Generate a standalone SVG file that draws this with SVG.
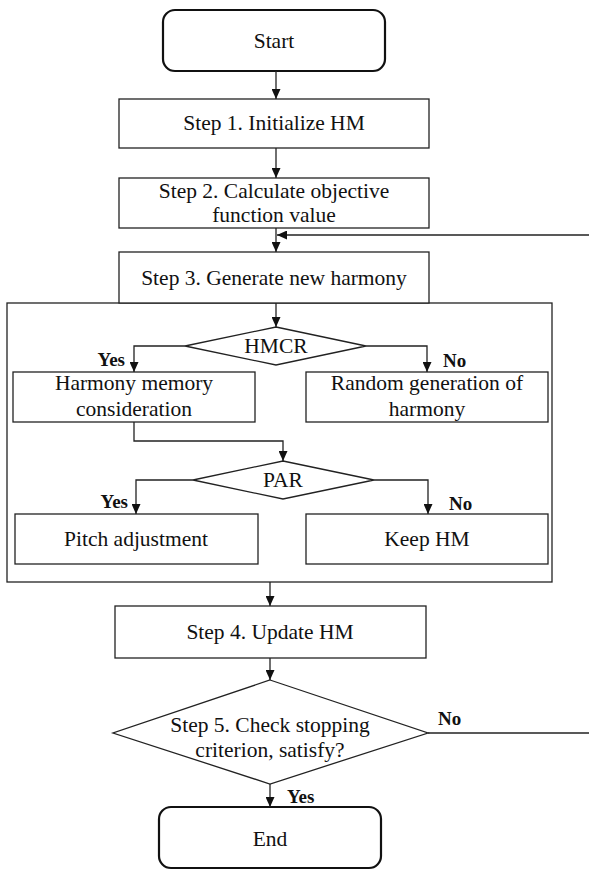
<svg xmlns="http://www.w3.org/2000/svg" width="589" height="870" viewBox="0 0 589 870">
<style>
.box{fill:#fff;stroke:#222;stroke-width:1.3}
.term{fill:#fff;stroke:#111;stroke-width:2.2}
.t{font-family:"Liberation Serif","Times New Roman",serif;font-size:21.5px;fill:#111;text-anchor:middle}
.lbl{font-family:"Liberation Serif","Times New Roman",serif;font-size:19px;font-weight:bold;fill:#111}
.c{fill:none;stroke:#222;stroke-width:1.3}
</style>
<defs>
<marker id="ah" markerUnits="userSpaceOnUse" markerWidth="10" markerHeight="9" refX="10" refY="4.5" orient="auto">
<path d="M0,0 L10,4.5 L0,9 z" fill="#111"/>
</marker>
</defs>
<rect width="589" height="870" fill="#fff"/>
<g id="container"><rect class="box" x="7" y="303" width="545" height="279"/></g>
<g id="start"><rect class="term" x="163" y="10" width="222" height="61" rx="12"/><text class="t" x="274" y="48">Start</text></g>
<g id="step1"><rect class="box" x="119" y="99" width="310" height="49"/><text class="t" x="274" y="130">Step 1. Initialize HM</text></g>
<g id="step2"><rect class="box" x="119" y="178" width="310" height="50"/><text class="t" x="274" y="198">Step 2. Calculate objective</text><text class="t" x="274" y="222">function value</text></g>
<g id="step3"><rect class="box" x="119" y="252" width="310" height="51"/><text class="t" x="274" y="285">Step 3. Generate new harmony</text></g>
<g id="hmcr"><polygon class="box" points="276,327 366,346 276,365 185,346"/><text class="t" x="276" y="353">HMCR</text></g>
<g id="hmc"><rect class="box" x="13" y="372" width="242" height="50"/><text class="t" x="134" y="390">Harmony memory</text><text class="t" x="134" y="416">consideration</text></g>
<g id="random"><rect class="box" x="306" y="372" width="242" height="50"/><text class="t" x="427" y="390">Random generation of</text><text class="t" x="427" y="416">harmony</text></g>
<g id="par"><polygon class="box" points="283,461 374,480 283,499 193,480"/><text class="t" x="283" y="487">PAR</text></g>
<g id="pitch"><rect class="box" x="15" y="514" width="243" height="50"/><text class="t" x="136" y="546">Pitch adjustment</text></g>
<g id="keep"><rect class="box" x="306" y="514" width="242" height="50"/><text class="t" x="427" y="546">Keep HM</text></g>
<g id="step4"><rect class="box" x="115" y="606" width="311" height="52"/><text class="t" x="270" y="639">Step 4. Update HM</text></g>
<g id="step5"><polygon class="box" points="270,680 428,733 270,784 113,733"/><text class="t" x="270" y="732">Step 5. Check stopping</text><text class="t" x="270" y="757">criterion, satisfy?</text></g>
<g id="end"><rect class="term" x="159" y="807" width="222" height="61" rx="12"/><text class="t" x="270" y="846">End</text></g>
<g id="connectors">
<path class="c" d="M276,71 V99" marker-end="url(#ah)"/>
<path class="c" d="M276,148 V178" marker-end="url(#ah)"/>
<path class="c" d="M276,228 V252" marker-end="url(#ah)"/>
<path class="c" d="M589,235 H277" marker-end="url(#ah)"/>
<path class="c" d="M276,303 V327" marker-end="url(#ah)"/>
<path class="c" d="M185,346 H134 V372" marker-end="url(#ah)"/>
<path class="c" d="M366,346 H427 V372" marker-end="url(#ah)"/>
<path class="c" d="M134,422 V441 H283 V461" marker-end="url(#ah)"/>
<path class="c" d="M193,480 H136 V514" marker-end="url(#ah)"/>
<path class="c" d="M374,480 H428 V514" marker-end="url(#ah)"/>
<path class="c" d="M270,582 V606" marker-end="url(#ah)"/>
<path class="c" d="M270,658 V680" marker-end="url(#ah)"/>
<path class="c" d="M270,784 V807" marker-end="url(#ah)"/>
<path class="c" d="M428,733 H589"/>
<text class="lbl" x="125" y="366" text-anchor="end">Yes</text>
<text class="lbl" x="443" y="367">No</text>
<text class="lbl" x="128" y="508" text-anchor="end">Yes</text>
<text class="lbl" x="449" y="510">No</text>
<text class="lbl" x="438" y="725">No</text>
<text class="lbl" x="287" y="803">Yes</text>
</g>
</svg>
